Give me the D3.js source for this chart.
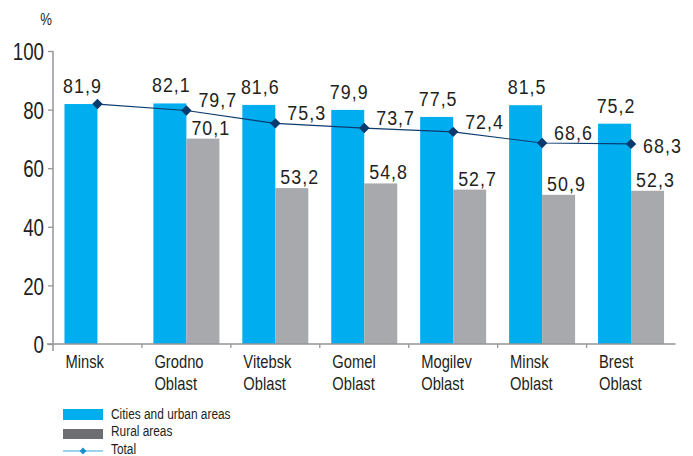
<!DOCTYPE html>
<html><head><meta charset="utf-8">
<script src="https://cdn.jsdelivr.net/npm/d3@7/dist/d3.min.js"></script>
<style>
html,body{margin:0;padding:0;background:#fff;}
svg text{font-family:"Liberation Sans",Arial,sans-serif;fill:#231f20;}
</style></head>
<body><svg id="chart" width="693" height="456"></svg>
<script>
const categories = [["Minsk"],["Grodno","Oblast"],["Vitebsk","Oblast"],["Gomel","Oblast"],["Mogilev","Oblast"],["Minsk","Oblast"],["Brest","Oblast"]];
const cities = [81.9, 82.1, 81.6, 79.9, 77.5, 81.5, 75.2];
const rural = [null, 70.1, 53.2, 54.8, 52.7, 50.9, 52.3];
const total = [81.9, 79.7, 75.3, 73.7, 72.4, 68.6, 68.3];
const yTicks = [0, 20, 40, 60, 80, 100];
const legendLabels = ["Cities and urban areas", "Rural areas", "Total"];

const SX = 0.82;   // horizontal squeeze for the condensed look
const VSX = 0.85;  // squeeze for value labels
function narrow(sel, xf, sx = SX) {
  sel.attr("transform", `scale(${sx},1)`).attr("x", (d, i, n) => xf(d, i, n) / sx);
  return sel;
}

const svg = d3.select("#chart");
const x0 = 53, x1 = 675.5, yTop = 51, yBot = 344;
const idx = d3.range(categories.length);
const x = d3.scaleBand().domain(idx).range([x0, x1]).paddingInner(0).paddingOuter(0);
const y = d3.scaleLinear().domain([0, 100]).range([yBot, yTop]);
const barW = 33;
const gOff = (x.bandwidth() - 2 * barW) / 2;

const blue = "#00aeef", gray = "#a7a9ac", navy = "#0b3a6e", axisC = "#939598";

// bars
svg.append("g").selectAll("rect").data(idx).join("rect")
  .attr("x", i => x(i) + gOff).attr("width", barW)
  .attr("y", i => y(cities[i])).attr("height", i => y(0) - y(cities[i]))
  .attr("fill", blue);
svg.append("g").selectAll("rect").data(idx.filter(i => rural[i] != null)).join("rect")
  .attr("x", i => x(i) + gOff + barW).attr("width", barW)
  .attr("y", i => y(rural[i])).attr("height", i => y(0) - y(rural[i]))
  .attr("fill", gray);

// axes
const YSX = 0.78;
const yAxis = d3.axisLeft(y).tickValues(yTicks).tickSize(5).tickPadding(4).tickFormat(d3.format("d"));
const gy = svg.append("g").attr("transform", `translate(${x0},0)`).call(yAxis);
gy.select(".domain").remove();
gy.selectAll(".tick line").attr("stroke", axisC).attr("stroke-width", 1.3);
gy.selectAll(".tick text").attr("font-size", 24).attr("fill", "#231f20").attr("dy", "0.36em")
  .attr("transform", `scale(${YSX},1)`).attr("x", -9 / YSX);
svg.append("line").attr("x1", x0).attr("x2", x0).attr("y1", yTop).attr("y2", yBot + 7)
  .attr("stroke", axisC).attr("stroke-width", 1.5);
svg.append("line").attr("x1", x0 - 6).attr("x2", x1).attr("y1", yBot).attr("y2", yBot)
  .attr("stroke", axisC).attr("stroke-width", 1.5);
svg.append("g").selectAll("line").data(idx.slice(1)).join("line")
  .attr("x1", i => x(i)).attr("x2", i => x(i)).attr("y1", yBot).attr("y2", yBot + 4)
  .attr("stroke", axisC).attr("stroke-width", 1.3);

narrow(svg.append("text").datum(0).attr("y", 25).attr("text-anchor", "middle")
  .attr("font-size", 16).attr("fill", "#555").text("%"), () => 46);

// category labels
const cl = svg.append("g").selectAll("text").data(idx).join("text")
  .attr("y", 368).attr("font-size", 18).attr("fill", "#333")
  .attr("transform", `scale(${SX},1)`);
cl.selectAll("tspan").data(i => categories[i].map(t => ({t, i}))).join("tspan")
  .attr("x", d => (x(d.i) + gOff + 1) / SX)
  .attr("dy", (d, j) => j === 0 ? 0 : 22).text(d => d.t);

const fmt = v => d3.format(".1f")(v).replace(".", ",");
const valSize = 21, ls = 1.2;

// cities labels
narrow(svg.append("g").selectAll("text").data(idx).join("text")
  .attr("y", i => y(cities[i]) - 11)
  .attr("text-anchor", "middle").attr("font-size", valSize).attr("letter-spacing", ls)
  .text(i => fmt(cities[i])), i => x(i) + gOff + barW / 2 + 1.5, VSX);
// rural labels
narrow(svg.append("g").selectAll("text").data(idx.filter(i => rural[i] != null)).join("text")
  .attr("y", i => y(rural[i]) - 4)
  .attr("font-size", valSize).attr("letter-spacing", ls)
  .text(i => fmt(rural[i])), i => x(i) + gOff + barW + 5, VSX);

// total line
const cx = i => x(i) + x.bandwidth() / 2;
svg.append("path").datum(idx)
  .attr("d", d3.line().x(cx).y(i => y(total[i])))
  .attr("fill", "none").attr("stroke", navy).attr("stroke-width", 1.2);
const diamond = d3.symbol().type(d3.symbolDiamond2).size(70);
svg.append("g").selectAll("path").data(idx).join("path")
  .attr("transform", i => `translate(${cx(i)},${y(total[i])})`)
  .attr("d", diamond).attr("fill", navy);
narrow(svg.append("g").selectAll("text").data(idx.slice(1)).join("text")
  .attr("y", i => y(total[i]) + (i === idx.length - 1 ? 9 : -3))
  .attr("font-size", valSize).attr("letter-spacing", ls)
  .text(i => fmt(total[i])), i => cx(i) + 12, VSX);

// legend
const lg = svg.append("g");
lg.append("rect").attr("x", 63).attr("y", 409).attr("width", 40).attr("height", 11).attr("fill", blue);
lg.append("rect").attr("x", 63).attr("y", 429).attr("width", 40).attr("height", 10).attr("fill", "#6d6e71");
lg.append("line").attr("x1", 63).attr("x2", 103).attr("y1", 451).attr("y2", 451).attr("stroke", "#3aa9e0").attr("stroke-width", 1.2);
lg.append("path").attr("transform", "translate(83,451)").attr("d", d3.symbol().type(d3.symbolDiamond2).size(30)).attr("fill", "#1a8fd0");
narrow(lg.selectAll("text").data(legendLabels).join("text")
  .attr("y", (d, i) => 419 + i * 17.5).attr("font-size", 14.5).attr("fill", "#333")
  .text(d => d), () => 111);
</script></body></html>
